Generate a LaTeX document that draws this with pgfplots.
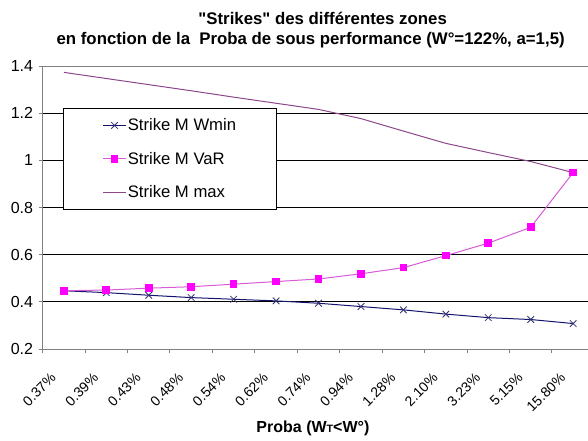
\documentclass[border=0pt]{standalone}
\usepackage{fontspec}
\setmainfont{Liberation Sans}[Ligatures=TeXOff]
\usepackage{pgfplots}
\pgfplotsset{compat=1.18}

\definecolor{wminc}{RGB}{20,20,110}
\definecolor{varc}{RGB}{255,0,255}
\definecolor{varline}{RGB}{215,90,215}
\definecolor{maxc}{RGB}{140,70,140}
\definecolor{frame}{RGB}{128,128,128}

\begin{document}
\begin{tikzpicture}
\begin{axis}[
  at={(0,0)}, anchor=south west,
  width=409pt, height=212.25pt, scale only axis,
  xmin=-0.5, xmax=12.35,
  ymin=0.2, ymax=1.4,
  ytick={0.2,0.4,0.6,0.8,1,1.2,1.4},
  xtick={0,1,2,3,4,5,6,7,8,9,10,11,12},
  xticklabels={0.37\%,0.39\%,0.43\%,0.48\%,0.54\%,0.62\%,0.74\%,0.94\%,1.28\%,2.10\%,3.23\%,5.15\%,15.80\%},
  minor xtick={-0.5,0.5,1.5,2.5,3.5,4.5,5.5,6.5,7.5,8.5,9.5,10.5,11.5},
  axis x line*=bottom, axis y line*=left,
  axis line style={frame, line width=0.75pt},
  tick align=outside,
  major tick length=3pt, minor tick length=3pt,
  major x tick style={draw=none},
  minor x tick style={frame, line width=0.75pt},
  major y tick style={frame, line width=0.75pt},
  ymajorgrids,
  grid style={black, line width=0.75pt},
  /pgf/number format/assume math mode=true,
  yticklabel style={font=\fontsize{12}{14}\selectfont, inner sep=0pt, xshift=-4pt},
  xticklabel style={font=\fontsize{10.5}{12}\selectfont, xshift=-10.5pt, yshift=-14pt, rotate=45, anchor=north east, inner sep=0pt},
  legend style={at={(0.037,0.852)}, anchor=north west, draw=black, line width=0.75pt,
    fill=white, font=\fontsize{12.5}{15}\selectfont, inner xsep=29.5pt, inner ysep=6.5pt,
    row sep=12.6pt, nodes={inner sep=1pt}},
  legend cell align=left,
  clip=false,
]
\addplot[wminc, line width=0.75pt, mark=x, mark size=3.5pt, mark options={wminc!70!gray, line width=0.6pt}] coordinates {
  (0,0.447) (1,0.439) (2,0.428) (3,0.418) (4,0.411) (5,0.404) (6,0.394)
  (7,0.380) (8,0.366) (9,0.348) (10,0.333) (11,0.325) (12,0.308)
};
\addlegendentry{Strike M Wmin}
\addplot[varline, line width=0.75pt, mark=square*, mark size=2.5pt, mark options={varc, fill=varc, solid}] coordinates {
  (0,0.447) (1,0.450) (2,0.458) (3,0.464) (4,0.475) (5,0.486) (6,0.497)
  (7,0.519) (8,0.545) (9,0.596) (10,0.649) (11,0.716) (12,0.948)
};
\addlegendentry{Strike M VaR}
\addplot[maxc, line width=0.75pt] coordinates {
  (0,1.373) (1,1.347) (2,1.321) (3,1.295) (4,1.268) (5,1.242) (6,1.216)
  (7,1.177) (8,1.124) (9,1.072) (10,1.033) (11,0.995) (12,0.948)
};
\addlegendentry{Strike M max}
\draw[frame, line width=0.75pt] (rel axis cs:0,1) -- (rel axis cs:1,1);
\end{axis}
\node[anchor=base, font=\bfseries\fontsize{12.6}{14}\selectfont] at (210pt,243.75pt) {"Strikes" des différentes zones};
\node[anchor=base, font=\bfseries\fontsize{12.6}{14}\selectfont] at (201pt,228.5pt) {en fonction de la \ Proba de sous performance (W°=122\%, a=1,5)};
\node[anchor=base, font=\bfseries\fontsize{12}{14}\selectfont] at (202.7pt,-62.25pt) {Proba (W{\fontsize{8}{8}\selectfont T}<W°)};
\pgfresetboundingbox
\path[use as bounding box] (-32pt,-68.25pt) rectangle (409pt,261.75pt);
\end{tikzpicture}
\end{document}
